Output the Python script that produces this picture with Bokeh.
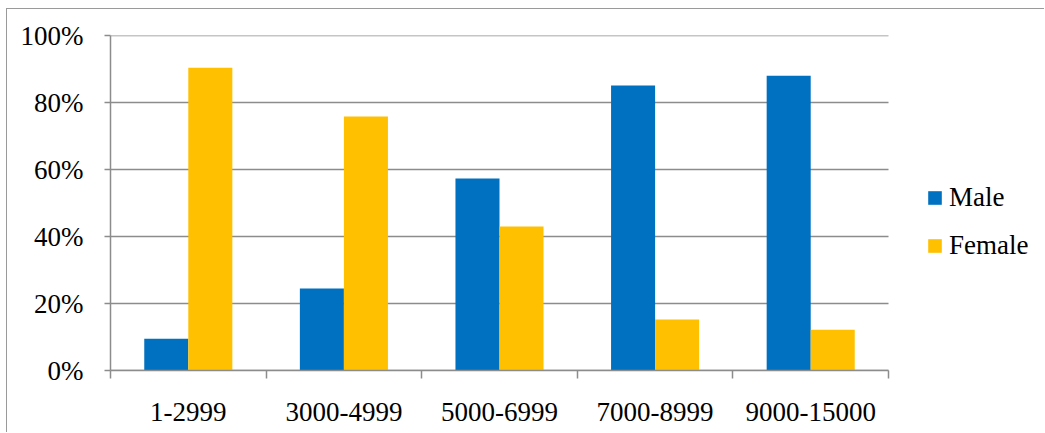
from bokeh.plotting import figure
from bokeh.models import (Range1d, FixedTicker, LinearAxis, Legend, LegendItem,
                          ColumnDataSource, PrintfTickFormatter)
from bokeh.transform import dodge
from bokeh.embed import file_html
from bokeh.resources import INLINE

categories = ["1-2999", "3000-4999", "5000-6999", "7000-8999", "9000-15000"]
male = [9.5, 24.5, 57.3, 85.1, 88.0]
female = [90.4, 75.8, 43.0, 15.2, 12.2]
y_ticks = [0, 20, 40, 60, 80, 100]

n = len(categories)
pos = [i + 0.5 for i in range(n)]
source = ColumnDataSource(dict(x=pos, male=male, female=female))

FONT = "'Liberation Serif', 'Times New Roman', serif"
GRAY = "#8c8c8c"
FS = "27px"

W, H = 1038, 424
LEFT, TOP, BOTTOM = 103, 26, 63
PLOT_W = 778  # pixel width of the category area
frame_w = W - LEFT
x_end = n * frame_w / PLOT_W

p = figure(width=W, height=H, x_range=Range1d(0, x_end),
           y_range=Range1d(0, 100), output_backend="svg", toolbar_location=None,
           x_axis_location=None, y_axis_location=None,
           min_border_left=LEFT, min_border_right=0, min_border_top=TOP,
           min_border_bottom=BOTTOM)
p.outline_line_color = None
p.xgrid.visible = False
p.ygrid.visible = False
p.styles = {"border-left": "1px solid #9a9a9a", "border-top": "1px solid #9a9a9a",
            "margin-left": "6px", "margin-top": "8px"}

# horizontal gridlines limited to the category area
p.segment(x0=[0] * len(y_ticks), x1=[n] * len(y_ticks), y0=y_ticks, y1=y_ticks,
          line_color=GRAY, line_width=1.5)

bw = 0.283
r1 = p.vbar(x=dodge("x", -bw / 2, range=p.x_range), top="male", width=bw,
            source=source, fill_color="#0070C0", line_color=None)
r2 = p.vbar(x=dodge("x", bw / 2, range=p.x_range), top="female", width=bw,
            source=source, fill_color="#FFC000", line_color=None)

# y axis
yaxis = LinearAxis(ticker=FixedTicker(ticks=y_ticks),
                   formatter=PrintfTickFormatter(format="%d%%"))
yaxis.axis_line_color = GRAY
yaxis.axis_line_width = 1.5
yaxis.major_tick_line_color = GRAY
yaxis.major_tick_line_width = 1.5
yaxis.major_tick_out = 6
yaxis.major_tick_in = 0
yaxis.minor_tick_line_color = None
yaxis.major_label_text_font = FONT
yaxis.major_label_text_font_size = FS
yaxis.major_label_text_color = "#000000"
yaxis.major_label_standoff = 21
p.add_layout(yaxis, "left")

# x axis: labels at centers, tick marks at boundaries
xaxis = LinearAxis(ticker=FixedTicker(ticks=pos, minor_ticks=list(range(n + 1))),
                   bounds=(0, n))
xaxis.major_label_overrides = {pos[i]: categories[i] for i in range(n)}
xaxis.axis_line_color = GRAY
xaxis.axis_line_width = 1.5
xaxis.major_tick_line_color = None
xaxis.major_tick_out = 0
xaxis.major_tick_in = 0
xaxis.minor_tick_line_color = GRAY
xaxis.minor_tick_line_width = 1.5
xaxis.minor_tick_out = 8
xaxis.minor_tick_in = 0
xaxis.major_label_text_font = FONT
xaxis.major_label_text_font_size = FS
xaxis.major_label_text_color = "#000000"
xaxis.major_label_standoff = 24
p.add_layout(xaxis, "below")

legend = Legend(items=[LegendItem(label="Male", renderers=[r1]),
                       LegendItem(label="Female", renderers=[r2])],
                location=(816, 109))
legend.margin = 0
legend.padding = 0
legend.border_line_color = None
legend.background_fill_alpha = 0
legend.glyph_width = 17
legend.glyph_height = 17
legend.label_height = 30
legend.spacing = 17
legend.label_standoff = 6
legend.label_text_font = FONT
legend.label_text_font_size = FS
legend.label_text_color = "#000000"
p.add_layout(legend)

open("out.html", "w").write(file_html(p, INLINE))
